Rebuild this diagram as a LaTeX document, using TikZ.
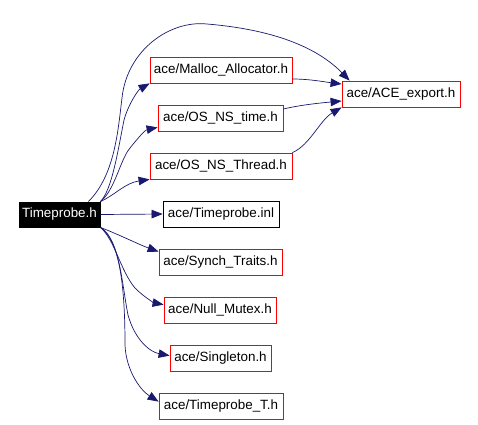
\documentclass[tikz,border=0pt]{standalone}
\usepackage{fontspec}
\setmainfont{Liberation Sans}
\usetikzlibrary{arrows.meta}
\definecolor{edgeblue}{HTML}{191970}
\tikzset{
  box/.style={draw=red, line width=0.8pt, inner sep=0pt, minimum height=26pt, font=\fontsize{13.4pt}{15pt}\selectfont, text=black},
  rootbox/.style={draw=black, fill=black, line width=0.8pt, inner sep=0pt, minimum height=25pt, font=\fontsize{13.4pt}{15pt}\selectfont, text=white},
  plainbox/.style={box, draw=black},
  dep/.style={draw=edgeblue, line width=0.7pt, -{Triangle[length=11pt,width=8.5pt]}, fill=none},
}
\begin{document}
\begin{tikzpicture}[x=1pt,y=-1pt]
\useasboundingbox (0,0) rectangle (478,424);
\node[rootbox, minimum width=81pt] (tp) at (59.5,214.5) {Timeprobe.h};
\node[box, minimum width=142pt] (malloc) at (221,70) {ace/Malloc\_Allocator.h};
\node[box, minimum width=125pt] (time) at (220.5,118) {ace/OS\_NS\_time.h};
\node[box, minimum width=142pt] (thread) at (221,166) {ace/OS\_NS\_Thread.h};
\node[box, minimum width=118pt] (export) at (401,94) {ace/ACE\_export.h};
\node[plainbox, minimum width=116pt] (inl) at (221,214) {ace/Timeprobe.inl};
\node[box, minimum width=123pt] (synch) at (220.5,262) {ace/Synch\_Traits.h};
\node[box, minimum width=112pt] (null) at (220,310) {ace/Null\_Mutex.h};
\node[box, minimum width=101pt] (single) at (220.5,358) {ace/Singleton.h};
\node[box, minimum width=124pt] (tpt) at (221,406) {ace/Timeprobe\_T.h};

\draw[dep] ([xshift=-12pt]tp.north east) .. controls (115,175) and (118,130) .. (122,98)
  .. controls (127,50) and (170,20) .. (207,24)
  .. controls (255,28) and (310,40) .. ([xshift=8pt]export.north west);
\draw[dep] (tp.north east) .. controls (112,190) and (118,150) .. (124,120)
  .. controls (128,105) and (138,90) .. (malloc.south west);
\draw[dep] (tp.north east) .. controls (115,190) and (120,160) .. (130,148)
  .. controls (138,138) and (145,130) .. ([yshift=4pt]time.south west);
\draw[dep] (tp.north east) .. controls (115,195) and (125,183) .. (thread.south west);
\draw[dep] (tp.east) -- (inl.west);
\draw[dep] (tp.south east) .. controls (120,235) and (140,245) .. ([yshift=-3pt]synch.north west);
\draw[dep] (tp.south east) .. controls (115,240) and (120,270) .. (135,288)
  .. controls (145,298) and (155,303) .. ([yshift=-8pt]null.north west);
\draw[dep] (tp.south east) .. controls (120,240) and (122,285) .. (128,315)
  .. controls (135,340) and (150,352) .. ([yshift=-11pt]single.north west);
\draw[dep] (tp.south east) .. controls (122,240) and (125,300) .. (125,345)
  .. controls (126,370) and (140,390) .. ([yshift=-9pt]tpt.north west);

\draw[dep] ([yshift=-9pt]malloc.east) .. controls (310,79) and (325,82) .. ([yshift=10pt]export.west);
\draw[dep] ([yshift=9pt]time.east) .. controls (300,105) and (320,103) .. ([yshift=-7pt]export.west);
\draw[dep] (thread.north east) .. controls (310,145) and (320,120) .. (export.south west);
\end{tikzpicture}
\end{document}
